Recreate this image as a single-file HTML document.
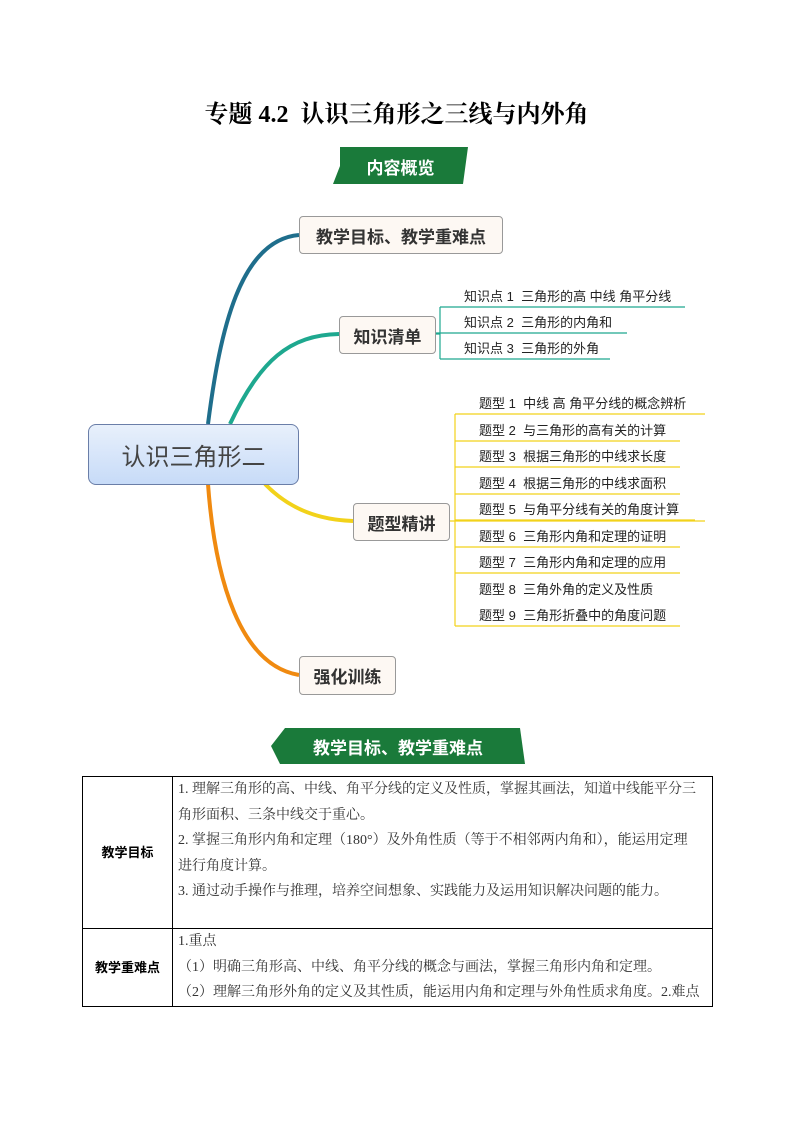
<!DOCTYPE html>
<html><head><meta charset="utf-8"><style>
body{margin:0;background:#fff;}
#p{position:relative;width:793px;height:1122px;font-family:"Liberation Serif","Noto Serif CJK SC",serif;color:#000;overflow:hidden}
.a{position:absolute;white-space:nowrap}
.s{font-family:"Liberation Sans","Noto Sans CJK SC",sans-serif}
.node{position:absolute;border:1px solid #999;border-radius:4px;background:#fdf8f3;font-family:"Liberation Sans","Noto Sans CJK SC",sans-serif;font-weight:bold;font-size:17px;color:#333;display:flex;align-items:center;justify-content:center}
.it{position:absolute;font-family:"Liberation Sans","Noto Sans CJK SC",sans-serif;font-size:13px;color:#222;white-space:nowrap}
table{table-layout:fixed}
td{border:1px solid #000;vertical-align:top;font-size:14px;line-height:25.6px;padding:0 5px;color:#333;white-space:nowrap;overflow:hidden}
</style></head><body><div id="p">
<div class="a" style="left:0;width:793px;text-align:center;top:94px;font-size:24px;font-weight:bold;">专题 4.2&nbsp; 认识三角形之三线与内外角</div>

<svg class="a" style="left:0;top:0" width="793" height="1122">
<polygon points="340,147 468,147 463,184 333,184 340,166" fill="#1a7a3a"/>
<polygon points="285,728 520,728 525,764 280,764 271,746" fill="#1a7a3a"/>
<path d="M208,424 C220,330 240,240 299,235" stroke="#1f6e8c" stroke-width="4" fill="none"/>
<path d="M230,424 C260,360 290,335 339,334" stroke="#1ea88f" stroke-width="4" fill="none"/>
<path d="M265,484 C290,510 320,520 353,521" stroke="#f2d21a" stroke-width="4" fill="none"/>
<path d="M208,484 C215,580 240,665 299,675" stroke="#f08a10" stroke-width="4" fill="none"/>
<g stroke="#1ea88f" stroke-width="1.2" fill="none">
<path d="M435,334 H440 M440,307 V359 M440,307 H685 M435,333 H627 M440,359 H610"/>
</g>
<g stroke="#f2d21a" stroke-width="1.2" fill="none">
<path d="M449,521 H705 M455,414 V626 M455,414 H705 M455,441 H680 M455,467 H680 M455,494 H680 M455,520 H695 M455,547 H680 M455,573 H680 M455,626 H680"/>
</g>
</svg>
<div class="a s" style="left:333px;width:135px;top:154px;text-align:center;color:#fff;font-weight:bold;font-size:17px">内容概览</div>
<div class="a s" style="left:271px;width:254px;top:734px;text-align:center;color:#fff;font-weight:bold;font-size:17px">教学目标、教学重难点</div>

<div class="node" style="left:88px;top:424px;width:209px;height:59px;background:linear-gradient(#e8f0fb,#c7dbf8);border-color:#6a7ea8;border-radius:8px;font-weight:normal;font-size:24px;color:#444">认识三角形二</div>
<div class="node" style="left:299px;top:216px;width:202px;height:36px">教学目标、教学重难点</div>
<div class="node" style="left:339px;top:316px;width:95px;height:36px">知识清单</div>
<div class="node" style="left:353px;top:503px;width:95px;height:36px">题型精讲</div>
<div class="node" style="left:299px;top:656px;width:95px;height:37px">强化训练</div>

<div class="it" style="left:464px;top:286px">知识点 1&nbsp; 三角形的高 中线 角平分线</div>
<div class="it" style="left:464px;top:312px">知识点 2&nbsp; 三角形的内角和</div>
<div class="it" style="left:464px;top:338px">知识点 3&nbsp; 三角形的外角</div>

<div class="it" style="left:479px;top:393px">题型 1&nbsp; 中线 高 角平分线的概念辨析</div>
<div class="it" style="left:479px;top:420px">题型 2&nbsp; 与三角形的高有关的计算</div>
<div class="it" style="left:479px;top:446px">题型 3&nbsp; 根据三角形的中线求长度</div>
<div class="it" style="left:479px;top:473px">题型 4&nbsp; 根据三角形的中线求面积</div>
<div class="it" style="left:479px;top:499px">题型 5&nbsp; 与角平分线有关的角度计算</div>
<div class="it" style="left:479px;top:526px">题型 6&nbsp; 三角形内角和定理的证明</div>
<div class="it" style="left:479px;top:552px">题型 7&nbsp; 三角形内角和定理的应用</div>
<div class="it" style="left:479px;top:579px">题型 8&nbsp; 三角外角的定义及性质</div>
<div class="it" style="left:479px;top:605px">题型 9&nbsp; 三角形折叠中的角度问题</div>

<table style="position:absolute;left:82px;top:776px;width:630px;border-collapse:collapse;">
<colgroup><col style="width:90px"><col style="width:540px"></colgroup>
<tr style="height:152px"><td style="vertical-align:middle;text-align:center;font-weight:bold;font-size:13px;color:#000;font-family:'Liberation Sans','Noto Sans CJK SC',sans-serif">教学目标</td>
<td>1. 理解三角形的高、中线、角平分线的定义及性质，掌握其画法，知道中线能平分三<br>角形面积、三条中线交于重心。<br>2. 掌握三角形内角和定理（180°）及外角性质（等于不相邻两内角和），能运用定理<br>进行角度计算。<br>3. 通过动手操作与推理，培养空间想象、实践能力及运用知识解决问题的能力。</td></tr>
<tr style="height:77px"><td style="vertical-align:middle;text-align:center;font-weight:bold;font-size:13px;color:#000;font-family:'Liberation Sans','Noto Sans CJK SC',sans-serif">教学重难点</td>
<td>1.重点<br>（1）明确三角形高、中线、角平分线的概念与画法，掌握三角形内角和定理。<br>（2）理解三角形外角的定义及其性质，能运用内角和定理与外角性质求角度。2.难点</td></tr>
</table>
</div></body></html>
